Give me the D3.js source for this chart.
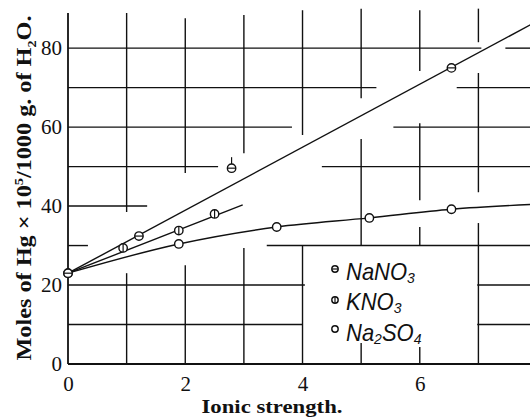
<!DOCTYPE html>
<html>
<head>
<meta charset="utf-8">
<script src="https://cdn.jsdelivr.net/npm/d3@7"></script>
<style>
body{margin:0;background:#fff;}
svg{display:block;}
</style>
</head>
<body>
<div id="chart"></div>
<script>
// ionic strength vs solubility of Hg (moles x 10^5 / 1000 g H2O)
var xTicks = [0, 2, 4, 6];
var yTicks = [0, 20, 40, 60, 80];

var nano3Pts = [[0, 23], [1.21, 32.4], [6.54, 75]];
var nano3Odd = [[2.79, 49.6]];
var nano3Line = [[0, 23], [7.9, 86]];

var kno3Pts = [[0, 23], [0.94, 29.4], [1.89, 33.8], [2.5, 38]];
var kno3Line = [[0, 23], [2.98, 40.3]];

var na2so4Pts = [[1.89, 30.4], [3.56, 34.7], [5.14, 37], [6.54, 39.2]];
var na2so4Line = [[0, 23], [1.89, 30.4], [3.56, 34.7], [5.14, 37], [6.54, 39.2], [7.9, 40.4]];

// graph paper pieces that are left over: [value, from, to]
var hGrid = [
  [80, 0, 7.05], [80, 7.46, 8],
  [70, 0, 5.26], [70, 6.63, 8],
  [60, 0, 3.82], [60, 5.55, 8],
  [50, 0, 2.56], [50, 4.33, 8],
  [40, 0, 1.35],
  [30, 0, 0.34], [30, 3.39, 8],
  [20, 0, 4.04], [20, 6.98, 8],
  [10, 0, 4.0], [10, 6.98, 8]
];
var vGrid = [
  [1, 88.9, 38.5], [1, 23, 0],
  [2, 87.6, 48.4], [2, 25, 0],
  [3, 88.4, 53.4], [3, 29.4, 0],
  [4, 89.6, 58], [4, 30.1, 0],
  [5, 90, 67.3], [5, 57, 30.1], [5, 5.3, 0],
  [6, 89.6, 74.2], [6, 61, 41.5], [6, 34.7, 30], [6, 4.3, 0],
  [7, 90, 81.5], [7, 73.7, 43.5], [7, 35.7, 0]
];

var width = 530, height = 418;
var svg = d3.select("#chart").append("svg").attr("width", width).attr("height", height);

var x = d3.scaleLinear().domain([0, 7.88]).range([68, 530]);
var y = d3.scaleLinear().domain([0, 88.9]).range([364, 13]);

var grid = svg.append("g").attr("stroke", "#111").attr("stroke-width", 1.4);
grid.selectAll(".h").data(hGrid).enter().append("line")
  .attr("x1", function(d){ return x(d[1]); }).attr("x2", function(d){ return Math.min(x(d[2]), width); })
  .attr("y1", function(d){ return y(d[0]); }).attr("y2", function(d){ return y(d[0]); });
grid.selectAll(".v").data(vGrid).enter().append("line")
  .attr("x1", function(d){ return x(d[0]); }).attr("x2", function(d){ return x(d[0]); })
  .attr("y1", function(d){ return Math.max(y(d[1]), 8); }).attr("y2", function(d){ return y(d[2]); });

// axes (frame on left and bottom)
var xAxis = d3.axisBottom(x).tickValues(xTicks).tickSize(0).tickPadding(12).tickFormat(d3.format("d"));
var yAxis = d3.axisLeft(y).tickValues(yTicks).tickSize(0).tickPadding(6).tickFormat(d3.format("d"));
var gx = svg.append("g").attr("transform", "translate(0," + y(0) + ")").call(xAxis);
var gy = svg.append("g").attr("transform", "translate(" + x(0) + ",0)").call(yAxis);
gx.select(".domain").attr("stroke", "#111").attr("stroke-width", 2).attr("d", "M" + x(0) + ",0H" + width);
gy.select(".domain").attr("stroke", "#111").attr("stroke-width", 1.8).attr("d", "M0," + y(0) + "V" + y(88.9));
svg.selectAll(".tick text").attr("font-family", "'Liberation Serif', serif").attr("font-size", 21).attr("fill", "#111");

// lines
var line = d3.line().x(function(d){ return x(d[0]); }).y(function(d){ return y(d[1]); });
var curve = d3.line().x(function(d){ return x(d[0]); }).y(function(d){ return y(d[1]); }).curve(d3.curveMonotoneX);
svg.append("path").datum(nano3Line).attr("d", line).attr("fill", "none").attr("stroke", "#111").attr("stroke-width", 1.4);
svg.append("path").datum(kno3Line).attr("d", line).attr("fill", "none").attr("stroke", "#111").attr("stroke-width", 1.4);
svg.append("path").datum(na2so4Line).attr("d", curve).attr("fill", "none").attr("stroke", "#111").attr("stroke-width", 1.4);

// markers
function marker(g, px, py, r, kind){
  g.append("circle").attr("cx", px).attr("cy", py).attr("r", r)
    .attr("fill", "#fff").attr("stroke", "#111").attr("stroke-width", 1.4);
  if(kind == "h"){
    g.append("line").attr("x1", px - r).attr("x2", px + r).attr("y1", py).attr("y2", py).attr("stroke", "#111").attr("stroke-width", 1.2);
  }
  if(kind == "v"){
    g.append("line").attr("x1", px).attr("x2", px).attr("y1", py - r).attr("y2", py + r).attr("stroke", "#111").attr("stroke-width", 1.2);
  }
}
var mk = svg.append("g");
na2so4Pts.forEach(function(d){ marker(mk, x(d[0]), y(d[1]), 4.2, "o"); });
kno3Pts.forEach(function(d){ marker(mk, x(d[0]), y(d[1]), 4.2, "v"); });
nano3Pts.forEach(function(d){ marker(mk, x(d[0]), y(d[1]), 4.2, "h"); });
nano3Odd.forEach(function(d){
  mk.append("line").attr("x1", x(d[0])).attr("x2", x(d[0])).attr("y1", y(d[1]) - 11).attr("y2", y(d[1]) - 4)
    .attr("stroke", "#111").attr("stroke-width", 1.2);
  marker(mk, x(d[0]), y(d[1]), 4.2, "h");
});

// legend
var legend = [["NaNO", "3", "h"], ["KNO", "3", "v"], ["Na", "2", "o"]];
var lg = svg.append("g");
var legY = [269, 300, 329];
var legBase = [280, 310, 341];
legend.forEach(function(d, i){
  marker(lg, 335, legY[i], 3.2, d[2]);
  var t = lg.append("text").attr("transform", "translate(346," + legBase[i] + ") scale(1,1.1)")
    .attr("font-family", "'Liberation Sans', sans-serif").attr("font-style", "italic")
    .attr("font-size", 22).attr("fill", "#111");
  t.append("tspan").text(d[0]);
  t.append("tspan").attr("font-size", 14).attr("dy", 3).text(d[1]);
  if(i == 2){
    t.append("tspan").attr("dy", -3).text("SO");
    t.append("tspan").attr("font-size", 14).attr("dy", 3).text("4");
  }
});

// axis titles
svg.append("text").attr("x", 272).attr("y", 413).attr("text-anchor", "middle")
  .attr("textLength", 141).attr("lengthAdjust", "spacingAndGlyphs")
  .attr("font-family", "'Liberation Serif', serif").attr("font-weight", "bold").attr("font-size", 19)
  .attr("fill", "#111").text("Ionic strength.");

var yt = svg.append("text").attr("transform", "translate(31,188) rotate(-90)").attr("text-anchor", "middle")
  .attr("textLength", 345).attr("lengthAdjust", "spacingAndGlyphs")
  .attr("font-family", "'Liberation Serif', serif").attr("font-weight", "bold").attr("font-size", 22).attr("fill", "#111");
yt.append("tspan").text("Moles of Hg × 10");
yt.append("tspan").attr("font-size", 13).attr("dy", -8).text("5");
yt.append("tspan").attr("dy", 8).text("/1000 g. of H");
yt.append("tspan").attr("font-size", 13).attr("dy", 5).text("2");
yt.append("tspan").attr("dy", -5).text("O.");
</script>
</body>
</html>
